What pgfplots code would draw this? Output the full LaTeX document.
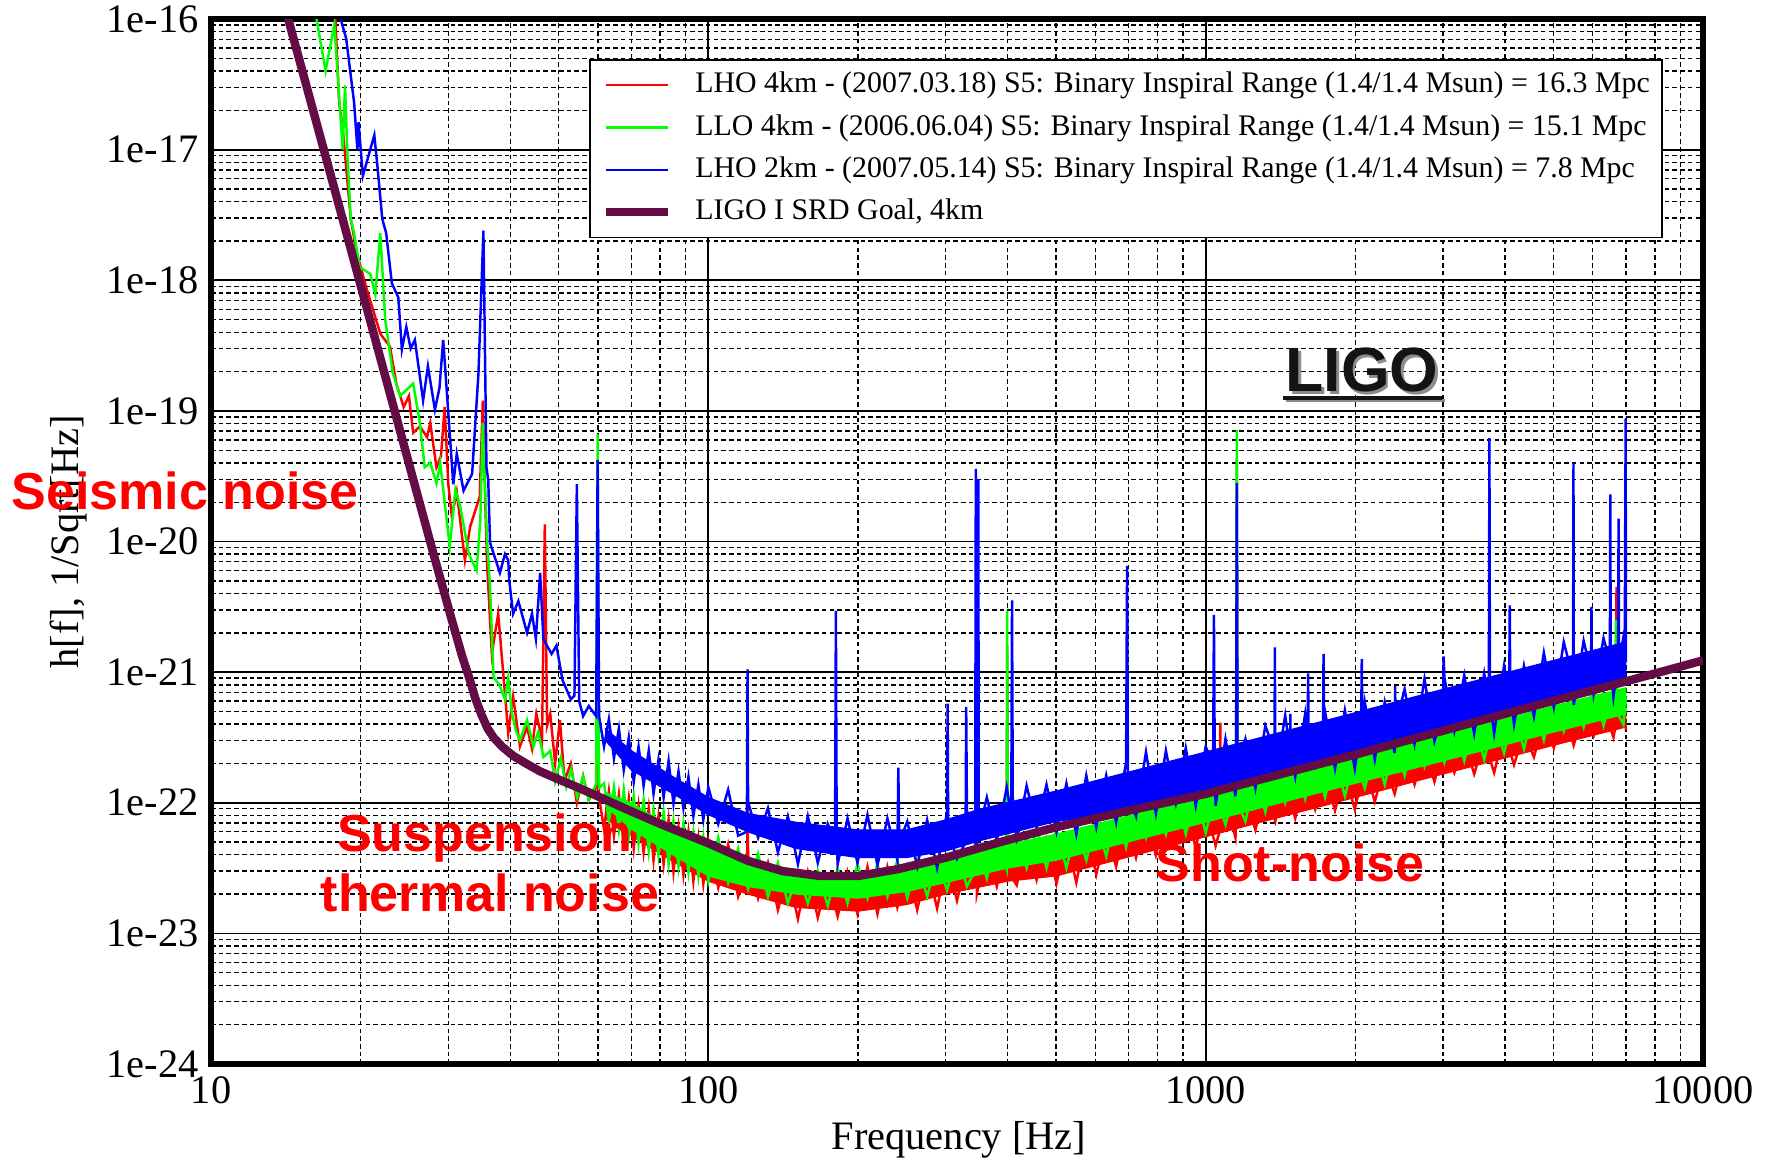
\documentclass[border=0pt]{standalone}
\usepackage{pgfplots}
\pgfplotsset{compat=1.18}
\usepackage{fontspec}
\setmainfont{Liberation Serif}
\newfontfamily\annfont{Liberation Sans}
\definecolor{srd}{RGB}{100,12,70}
\definecolor{cred}{RGB}{255,0,0}
\definecolor{cgreen}{RGB}{0,255,0}
\definecolor{cblue}{RGB}{0,0,255}
\begin{document}
\begin{tikzpicture}
\useasboundingbox (-2.11cm,-0.94cm) rectangle (15.58cm,10.64cm);
\begin{axis}[
  at={(0,0)}, anchor=south west,
  scale only axis, width=14.92cm, height=10.45cm,
  xmode=log, ymode=log,
  xmin=10, xmax=10000, ymin=1e-24, ymax=1e-16,
  xtick={10,100,1000,10000}, xticklabels={10,100,1000,10000},
  ytick={1e-24,1e-23,1e-22,1e-21,1e-20,1e-19,1e-18,1e-17,1e-16},
  yticklabels={1e-24,1e-23,1e-22,1e-21,1e-20,1e-19,1e-18,1e-17,1e-16},
  minor xtick={20,30,40,50,60,70,80,90,200,300,400,500,600,700,800,900,2000,3000,4000,5000,6000,7000,8000,9000},
  minor ytick={2e-24,3e-24,4e-24,5e-24,6e-24,7e-24,8e-24,9e-24,
               2e-23,3e-23,4e-23,5e-23,6e-23,7e-23,8e-23,9e-23,
               2e-22,3e-22,4e-22,5e-22,6e-22,7e-22,8e-22,9e-22,
               2e-21,3e-21,4e-21,5e-21,6e-21,7e-21,8e-21,9e-21,
               2e-20,3e-20,4e-20,5e-20,6e-20,7e-20,8e-20,9e-20,
               2e-19,3e-19,4e-19,5e-19,6e-19,7e-19,8e-19,9e-19,
               2e-18,3e-18,4e-18,5e-18,6e-18,7e-18,8e-18,9e-18,
               2e-17,3e-17,4e-17,5e-17,6e-17,7e-17,8e-17,9e-17},
  grid=both,
  major grid style={black, line width=0.5pt},
  minor grid style={black, line width=0.4pt, dash pattern=on 1.3pt off 0.9pt},
  major tick length=0pt, minor tick length=0pt,
  axis line style={line width=1.7pt},
  tick label style={font=\fontsize{11.5}{13}\selectfont},
  label style={font=\fontsize{11.5}{13}\selectfont},
  xlabel={Frequency [Hz]},
  ylabel={h[f], 1/Sqrt[Hz]},
  xlabel style={at={(axis description cs:0.5013,-0.0727)}, anchor=center},
  ylabel style={at={(axis description cs:-0.0952,0.5)}, anchor=center},
  clip mode=individual,
  legend cell align=left,
  legend image code/.code={\draw[#1] (0cm,0cm) -- (0.62cm,0cm);},
  legend style={at={(axis description cs:0.9732,0.9617)}, anchor=north east,
    draw=black, line width=0.5pt, fill=white,
    font=\fontsize{8.5}{10}\selectfont,
    inner xsep=3.5pt, inner ysep=1.5pt, row sep=0.65pt, column sep=6.5pt,
    nodes={inner xsep=0pt, inner ysep=2pt}},
]
% ---------------- LHO 4km (red) ----------------
\addplot[draw=cred, line width=0.3pt, fill=cred, forget plot] coordinates {
(62,1.10e-22) (70,8.9e-23) (85,5.9e-23) (100,4.47e-23) (120,3.39e-23) (150,2.69e-23) (200,2.57e-23) (250,2.88e-23) (300,3.39e-23) (400,4.17e-23) (500,4.79e-23) (1000,8.9e-23) (2000,1.70e-22) (3000,2.45e-22) (5000,3.89e-22) (7000,5.25e-22)
(7000,3.8e-22) (5000,2.75e-22) (3000,1.66e-22) (2000,1.10e-22) (1000,5.5e-23) (500,2.75e-23) (400,2.51e-23) (300,2.0e-23) (250,1.66e-23) (200,1.48e-23) (150,1.58e-23) (120,2.0e-23) (100,2.51e-23) (85,3.55e-23) (70,5.6e-23) (62,7.6e-23)
};
\addplot[cred, line width=0.7pt] coordinates {
(17.6,1.3e-16) (17.8,9.5e-17) (18.1,2.3e-17) (18.4,1.45e-17) (19.1,2.95e-18) (19.65,1.62e-18) (20.5,8.9e-19) (21.9,3.9e-19) (22.9,3.1e-19) (23.6,1.6e-19) (24.4,1.07e-19) (25.0,1.3e-19) (25.5,6.8e-20) (26.3,7.6e-20) (27.2,6.3e-20) (27.6,8.1e-20) (28.4,3.7e-20) (29.0,4.5e-20) (29.5,1.07e-19) (30.0,2.75e-20) (30.5,1.55e-20) (31.2,2.4e-20) (32.4,7.2e-21) (33.2,1.3e-20) (34.7,2.2e-20) (35.2,1.2e-19) (35.6,2.0e-20) (35.9,6.8e-21) (36.7,1.38e-21) (37.8,2.8e-21) (38.7,9.8e-22) (39.6,3.4e-22) (40.5,6.5e-22) (41.8,2.7e-22) (43.2,3.8e-22) (44.2,2.6e-22) (45.1,4.8e-22) (46.3,3.0e-22) (46.9,1.35e-20) (47.4,3.9e-22) (48.1,4.8e-22) (49.2,2.0e-22) (50.3,4.3e-22) (51.4,1.48e-22) (52.9,2.0e-22) (54.4,1.0e-22) (56,1.6e-22) (57.5,1.05e-22) (59.5,1.3e-22) (59.9,4.0e-22) (60.3,1.1e-22)
(61.7,6.3e-23) (63.1,1.23e-22) (64.6,5.6e-23) (66.1,1.15e-22) (67.6,5.1e-23) (69.2,1.07e-22) (70.8,4.47e-23) (72.4,9.5e-23) (74.1,4.17e-23) (75.9,9.1e-23) (77.6,3.63e-23) (79.4,7.9e-23) (81.3,3.39e-23) (83.2,7.4e-23) (85.1,2.95e-23) (87.1,6.5e-23) (89.1,2.82e-23) (91.2,6.0e-23) (93.3,2.51e-23) (95.5,5.4e-23) (97.7,2.4e-23)
(100,5.13e-23) (104.7,2.24e-23) (109.6,4.79e-23) (114.8,1.91e-23) (119.6,3.0e-23) (120.0,1.0e-22) (120.2,3.98e-23) (125.9,1.86e-23) (131.8,3.47e-23) (138.0,1.51e-23) (144.5,2.95e-23) (151.4,1.29e-23) (158.5,2.95e-23) (166.0,1.32e-23) (173.8,2.69e-23) (182.0,1.35e-23) (190.5,2.95e-23) (199.5,1.41e-23) (208.9,3.24e-23) (218.8,1.41e-23) (229.1,3.24e-23) (239.9,1.58e-23) (251.2,3.24e-23) (263.0,1.51e-23) (275.4,3.31e-23) (288.4,1.55e-23) (302.0,3.72e-23) (316.2,1.78e-23) (331.1,3.72e-23) (343.5,3.0e-23) (345,2.9e-22) (346.2,3.0e-23) (346.7,2.0e-23) (363.1,4.47e-23) (380.2,2.29e-23) (398.1,5.13e-23) (399,1.6e-21) (400,3.0e-23) (416.9,2.34e-23) (436.5,5.13e-23) (457.1,2.57e-23) (478.6,5.25e-23) (501.2,2.4e-23) (524.8,5.25e-23) (549.5,2.45e-23) (575.4,5.9e-23) (602.6,2.82e-23) (631.0,6.0e-23) (660.7,3.24e-23) (691.8,7.4e-23) (724.4,3.8e-23) (758.6,8.5e-23) (794.3,3.98e-23) (831.8,8.9e-23) (871.0,4.68e-23) (912.0,9.3e-23) (955.0,4.57e-23) (1000,9.3e-23) (1047,4.68e-23) (1066,6e-23) (1070,4.1e-22) (1074,6e-23) (1096,1.07e-22) (1148,5.4e-23) (1151,7e-23) (1155,4.3e-20) (1159,7e-23) (1202,1.10e-22) (1259,6.2e-23) (1318,1.32e-22) (1380,7.2e-23) (1445,1.55e-22) (1514,7.6e-23) (1585,1.58e-22) (1660,8.9e-23) (1738,1.66e-22) (1820,8.7e-23) (1905,1.70e-22) (1995,8.9e-23) (2089,1.91e-22) (2188,1.02e-22) (2291,1.95e-22) (2399,1.17e-22) (2512,2.4e-22) (2630,1.38e-22) (2754,2.75e-22) (2884,1.45e-22) (3020,2.88e-22) (3162,1.70e-22) (3311,2.95e-22) (3467,1.66e-22) (3631,3.02e-22) (3802,1.70e-22) (3981,3.47e-22) (4169,1.95e-22) (4365,3.47e-22) (4571,2.24e-22) (4786,4.27e-22) (5012,2.63e-22) (5248,5.0e-22) (5495,2.75e-22) (5754,5.13e-22) (6026,3.24e-22) (6310,5.4e-22) (6607,3.16e-22) (6680,4e-22) (6700,4.5e-21) (6720,4e-22) (6918,5.4e-22) (7000,3.6e-22)
};
\addlegendentry{LHO 4km - (2007.03.18) S5: Binary Inspiral Range (1.4/1.4 Msun) = 16.3 Mpc}
% ---------------- LLO 4km (green) ----------------
\addplot[draw=cgreen, line width=0.3pt, fill=cgreen, forget plot] coordinates {
(62,1.20e-22) (70,1.0e-22) (85,6.3e-23) (100,4.79e-23) (120,3.63e-23) (150,2.88e-23) (200,2.82e-23) (250,3.16e-23) (300,3.8e-23) (400,4.79e-23) (500,5.75e-23) (1000,1.12e-22) (2000,2.24e-22) (3000,3.31e-22) (5000,5.5e-22) (7000,7.6e-22)
(7000,4.79e-22) (5000,3.47e-22) (3000,2.09e-22) (2000,1.41e-22) (1000,7.1e-23) (500,3.63e-23) (400,3.16e-23) (300,2.45e-23) (250,2.09e-23) (200,1.86e-23) (150,2.0e-23) (120,2.29e-23) (100,2.75e-23) (85,3.98e-23) (70,6.3e-23) (62,9.5e-23)
};
\addplot[cgreen, line width=0.7pt] coordinates {
(16.2,1.3e-16) (16.3,1.0e-16) (17.0,4.0e-17) (17.7,9.1e-17) (18.4,1.0e-17) (18.6,3.1e-17) (18.8,9.5e-18) (19.1,2.95e-18) (19.4,2.3e-18) (19.9,1.26e-18) (20.9,1.12e-18) (21.4,7.8e-19) (21.9,2.3e-18) (22.4,5.0e-19) (23.2,1.95e-19) (24.0,1.3e-19) (25.5,1.62e-19) (26.3,8.1e-20) (26.9,3.7e-20) (27.6,4.0e-20) (28.4,2.8e-20) (28.9,4.0e-20) (29.5,2.0e-20) (30.2,9.1e-21) (31.0,2.5e-20) (31.7,1.86e-20) (33.0,8.0e-21) (34.2,6.0e-21) (34.8,1.45e-20) (35.2,8.1e-20) (35.9,1.02e-20) (36.4,4.5e-21) (37.0,9.1e-22) (38.0,8.0e-22) (39.0,6.2e-22) (39.6,9.1e-22) (40.3,4.8e-22) (41.0,3.6e-22) (41.8,3.0e-22) (43.2,4.3e-22) (44.5,2.7e-22) (45.5,3.5e-22) (46.6,2.24e-22) (48.1,2.5e-22) (49.2,1.45e-22) (50.5,2.2e-22) (51.8,1.32e-22) (53.0,1.8e-22) (54.5,1.1e-22) (56.0,1.6e-22) (57.5,1.05e-22) (59.5,1.4e-22) (59.9,6.6e-20) (60.3,1.3e-22)
(61.7,1.41e-22) (63.1,7.2e-23) (64.6,1.32e-22) (66.1,6.2e-23) (67.6,1.26e-22) (69.2,5.5e-23) (70.8,1.12e-22) (72.4,4.9e-23) (74.1,1.05e-22) (75.9,4.27e-23) (77.6,8.9e-23) (79.4,3.98e-23) (81.3,8.5e-23) (83.2,3.39e-23) (85.1,7.2e-23) (87.1,3.24e-23) (89.1,6.9e-23) (91.2,2.95e-23) (93.3,5.9e-23) (95.5,2.75e-23) (97.7,5.5e-23)
(100,2.51e-23) (104.7,5.4e-23) (109.6,2.45e-23) (114.8,4.47e-23) (120.2,2.19e-23) (125.9,4.07e-23) (131.8,1.91e-23) (138.0,3.47e-23) (144.5,1.70e-23) (151.4,2.95e-23) (158.5,1.70e-23) (166.0,3.02e-23) (173.8,1.62e-23) (182.0,3.16e-23) (190.5,1.70e-23) (199.5,3.39e-23) (208.9,1.86e-23) (218.8,3.39e-23) (229.1,1.91e-23) (239.9,3.63e-23) (251.2,1.86e-23) (263.0,3.63e-23) (275.4,1.91e-23) (288.4,3.72e-23) (302.0,2.14e-23) (316.2,4.17e-23) (331.1,2.29e-23) (343.5,3e-23) (345,2.9e-22) (346.2,3e-23) (346.7,4.79e-23) (363.1,2.63e-23) (380.2,5.5e-23) (398.1,3.09e-23) (399,2.95e-21) (400,3.5e-23) (416.9,5.6e-23) (436.5,3.16e-23) (457.1,6.3e-23) (478.6,3.16e-23) (501.2,6.3e-23) (524.8,3.16e-23) (549.5,6.5e-23) (575.4,3.63e-23) (602.6,7.2e-23) (631.0,3.89e-23) (660.7,8.5e-23) (691.8,4.57e-23) (724.4,1.0e-22) (758.6,5.4e-23) (794.3,1.05e-22) (831.8,5.75e-23) (871.0,1.15e-22) (912.0,5.75e-23) (955.0,1.17e-22) (1000,5.9e-23) (1047,1.20e-22) (1096,6.8e-23) (1148,1.35e-22) (1151,1e-22) (1155,7.2e-20) (1159,1e-22) (1202,7.2e-23) (1259,1.58e-22) (1318,8.5e-23) (1380,1.86e-22) (1445,1.0e-22) (1514,1.95e-22) (1585,1.07e-22) (1660,2.19e-22) (1738,1.10e-22) (1820,2.24e-22) (1905,1.12e-22) (1995,2.29e-22) (2089,1.29e-22) (2188,2.57e-22) (2291,1.38e-22) (2399,3.02e-22) (2512,1.62e-22) (2630,3.55e-22) (2754,1.91e-22) (2884,3.72e-22) (3020,2.04e-22) (3162,4.17e-22) (3311,2.09e-22) (3467,4.27e-22) (3631,2.14e-22) (3802,4.37e-22) (3981,2.4e-22) (4169,4.79e-22) (4365,2.57e-22) (4571,5.6e-22) (4786,3.02e-22) (5012,6.6e-22) (5248,3.55e-22) (5495,6.9e-22) (5754,3.8e-22) (6026,7.8e-22) (6310,3.89e-22) (6607,7.9e-22) (6660,5e-22) (6680,2.5e-21) (6700,5e-22) (6918,3.98e-22) (7000,6.5e-22)
};
\addlegendentry{LLO 4km - (2006.06.04) S5: Binary Inspiral Range (1.4/1.4 Msun) = 15.1 Mpc}
% ---------------- LHO 2km (blue) ----------------
\addplot[draw=cblue, line width=0.3pt, fill=cblue, forget plot] coordinates {
(62,3.72e-22) (70,2.51e-22) (85,1.58e-22) (100,1.10e-22) (120,8.3e-23) (150,7.1e-23) (200,6.2e-23) (250,6.2e-23) (300,7.4e-23) (350,8.9e-23) (500,1.23e-22) (700,1.72e-22) (1000,2.45e-22) (2000,4.9e-22) (3000,7.4e-22) (5000,1.23e-21) (7000,1.70e-21)
(7000,8.1e-22) (5000,5.9e-22) (3000,3.55e-22) (2000,2.4e-22) (1000,1.20e-22) (700,8.5e-23) (500,7.2e-23) (350,5.1e-23) (300,4.27e-23) (250,3.8e-23) (200,3.8e-23) (150,4.47e-23) (120,6.0e-23) (100,8.1e-23) (85,1.17e-22) (70,1.78e-22) (62,3.02e-22)
};
\addplot[cblue, line width=0.7pt] coordinates {
(18.1,1.3e-16) (18.3,9.5e-17) (18.7,7.1e-17) (19.4,2.3e-17) (19.7,1.0e-17) (19.8,1.62e-17) (20.2,6.3e-18) (21.3,1.29e-17) (21.6,7.6e-18) (22.1,2.95e-18) (22.5,2.3e-18) (23.1,9.5e-19) (23.8,7.4e-19) (24.2,2.95e-19) (24.7,4.4e-19) (25.2,3.0e-19) (25.7,3.5e-19) (26.7,1.2e-19) (27.3,2.2e-19) (28.2,1.02e-19) (28.8,1.5e-19) (29.3,3.5e-19) (29.8,1.4e-19) (30.7,2.75e-20) (31.2,4.7e-20) (32.2,2.45e-20) (33.5,3.3e-20) (34.5,1.95e-19) (35.3,2.4e-18) (35.8,3.7e-20) (36.1,2.95e-20) (36.4,9.8e-21) (37.2,7.6e-21) (38.1,5.75e-21) (39.0,8.0e-21) (39.6,7.2e-21) (39.8,5.0e-21) (40.5,2.8e-21) (41.5,3.5e-21) (43.2,2.0e-21) (44.2,2.8e-21) (45.0,1.8e-21) (45.9,5.75e-21) (46.6,1.78e-21) (48.4,1.38e-21) (49.5,1.6e-21) (50.9,8.7e-22) (52.9,6.2e-22) (53.8,6.6e-22) (54.4,2.75e-20) (55.0,6.0e-22) (56.0,4.6e-22) (57.5,5.5e-22) (59.5,4.6e-22) (59.9,4.2e-20) (60.3,4.6e-22)
(61.7,2.69e-22) (63.1,4.37e-22) (64.6,2.19e-22) (66.1,3.72e-22) (67.6,1.78e-22) (69.2,3.16e-22) (70.8,1.45e-22) (72.4,2.69e-22) (74.1,1.35e-22) (75.9,2.51e-22) (77.6,1.17e-22) (79.4,2.14e-22) (81.3,1.10e-22) (83.2,2.09e-22) (85.1,9.8e-23) (87.1,1.74e-22) (89.1,9.1e-23) (91.2,1.58e-22) (93.3,7.9e-23) (95.5,1.38e-22) (97.7,7.4e-23)
(100,1.32e-22) (104.7,6.9e-23) (109.6,1.26e-22) (114.8,5.6e-23) (119.5,6e-23) (119.9,1.05e-21) (120.2,1.02e-22) (125.9,5.4e-23) (131.8,9.1e-23) (138.0,4.17e-23) (144.5,7.9e-23) (151.4,3.39e-23) (158.5,7.9e-23) (166.0,3.47e-23) (173.8,6.9e-23) (179.8,5e-23) (180.5,2.95e-21) (181.2,5e-23) (182.0,3.39e-23) (190.5,7.6e-23) (199.5,3.47e-23) (208.9,8.1e-23) (218.8,3.31e-23) (229.1,7.6e-23) (239.9,3.63e-23) (241,1.86e-22) (242,5e-23) (251.2,7.2e-23) (263.0,3.24e-23) (275.4,7.4e-23) (288.4,3.16e-23) (302.0,8.5e-23) (302.8,5.75e-22) (303.6,6e-23) (316.2,3.72e-23) (329,5e-23) (330,5.4e-22) (331.1,8.7e-23) (344,5e-23) (345,3.6e-20) (346,6e-23) (346.7,4.37e-23) (348.2,6e-23) (349,3.0e-20) (349.8,6e-23) (363.1,1.10e-22) (380.2,5.13e-23) (398.1,1.32e-22) (406.5,8e-23) (408,3.55e-21) (409.5,8e-23) (416.9,5.4e-23) (436.5,1.35e-22) (457.1,6.5e-23) (478.6,1.38e-22) (501.2,6.0e-23) (524.8,1.41e-22) (549.5,5.75e-23) (575.4,1.62e-22) (602.6,6.5e-23) (631.0,1.62e-22) (660.7,7.1e-23) (691.8,2.04e-22) (695,6.5e-21) (698,1.2e-22) (724.4,7.9e-23) (758.6,2.45e-22) (794.3,8.3e-23) (831.8,2.51e-22) (871.0,1.0e-22) (912.0,2.63e-22) (955.0,9.5e-23) (1000,2.69e-22) (1035,2e-22) (1039,2.75e-21) (1043,2e-22) (1047,9.5e-23) (1096,3.09e-22) (1148,1.12e-22) (1151,2e-22) (1155,2.8e-20) (1159,2e-22) (1202,3.09e-22) (1259,1.29e-22) (1318,3.89e-22) (1375,2.5e-22) (1378,1.55e-21) (1380,1.51e-22) (1445,4.68e-22) (1478,2.5e-22) (1480,4.8e-22) (1482,2.5e-22) (1514,1.58e-22) (1585,4.79e-22) (1603,3e-22) (1607,9.8e-22) (1611,3e-22) (1660,1.91e-22) (1721,3e-22) (1726,1.38e-21) (1731,3e-22) (1738,5.0e-22) (1820,1.82e-22) (1905,5.13e-22) (1995,1.82e-22) (2054,4e-22) (2060,1.26e-21) (2066,4e-22) (2089,5.9e-22) (2188,2.14e-22) (2291,5.9e-22) (2399,2.4e-22) (2404,7.8e-22) (2409,4e-22) (2512,7.4e-22) (2630,2.82e-22) (2754,8.9e-22) (2884,2.95e-22) (3002,5e-22) (3009,1.32e-21) (3020,9.1e-22) (3162,3.55e-22) (3311,9.5e-22) (3467,3.39e-22) (3631,9.8e-22) (3710,6e-22) (3720,6.2e-20) (3730,6e-22) (3802,3.39e-22) (3981,1.12e-21) (4077,7e-22) (4087,3.24e-21) (4097,7e-22) (4169,3.98e-22) (4365,1.12e-21) (4571,4.57e-22) (4786,1.41e-21) (5012,5.4e-22) (5248,1.70e-21) (5478,9e-22) (5490,4.0e-20) (5495,5.6e-22) (5754,1.74e-21) (5955,1e-21) (5967,3.16e-21) (5979,1e-21) (6026,6.8e-22) (6310,1.82e-21) (6497,1.2e-21) (6510,2.3e-20) (6523,1.2e-21) (6607,6.5e-22) (6750,1.2e-21) (6765,1.5e-20) (6780,1.2e-21) (6918,1.86e-21) (6960,1.5e-21) (6990,8.7e-20) (7000,1.2e-21)
};
\addlegendentry{LHO 2km - (2007.05.14) S5: Binary Inspiral Range (1.4/1.4 Msun) = 7.8 Mpc}
% ---------------- SRD goal ----------------
\addplot[srd, line width=2.4pt] coordinates {
(14,1.35e-16) (14.3,1.0e-16) (17,8.9e-18) (20,9.1e-19) (22.5,1.74e-19) (25.5,3.0e-20) (28,8.1e-21) (30.5,2.5e-21) (32,1.32e-21) (33.1,8.9e-22) (34,6.3e-22) (35,4.7e-22) (36,3.7e-22) (37,3.16e-22) (38.5,2.69e-22) (40.5,2.29e-22) (43,2.0e-22) (45.9,1.74e-22) (50,1.51e-22) (54.4,1.32e-22) (60,1.12e-22) (69.5,8.7e-23) (80,6.9e-23) (100,4.9e-23) (120,3.6e-23) (141,3.0e-23) (168,2.75e-23) (200,2.75e-23) (240,3.1e-23) (300,3.8e-23) (386,5.0e-23) (500,6.5e-23) (700,8.7e-23) (1000,1.17e-22) (2000,2.34e-22) (4000,4.8e-22) (7000,8.5e-22) (10000,1.23e-21)
};
\addlegendentry{LIGO I SRD Goal, 4km}
\end{axis}
% annotations (axis lower-left corner is at the origin; 1 cm = 100 px)
\node[anchor=base, inner sep=0, text=black!45, font=\annfont\bfseries\fontsize{17.8}{20}\selectfont] at (11.535,6.698) {LIGO};
\node[anchor=base, inner sep=0, text=black!92, font=\annfont\bfseries\fontsize{17.8}{20}\selectfont] at (11.51,6.723) {LIGO};
\draw[black!45, line width=0.9pt] (10.745,6.635) -- (12.335,6.635);
\draw[black!92, line width=0.9pt] (10.72,6.66) -- (12.31,6.66);
\node[anchor=base west, inner sep=0, text=cred, font=\annfont\bfseries\fontsize{14.8}{16}\selectfont] at (-2.00,5.54) {Seismic noise};
\node[anchor=base, inner sep=0, text=cred, font=\annfont\bfseries\fontsize{14.8}{16}\selectfont] at (2.735,2.12) {Suspension};
\node[anchor=base, inner sep=0, text=cred, font=\annfont\bfseries\fontsize{14.8}{16}\selectfont] at (2.79,1.52) {thermal noise};
\node[anchor=base, inner sep=0, text=cred, font=\annfont\bfseries\fontsize{14.8}{16}\selectfont] at (10.79,1.823) {Shot-noise};
\end{tikzpicture}
\end{document}
